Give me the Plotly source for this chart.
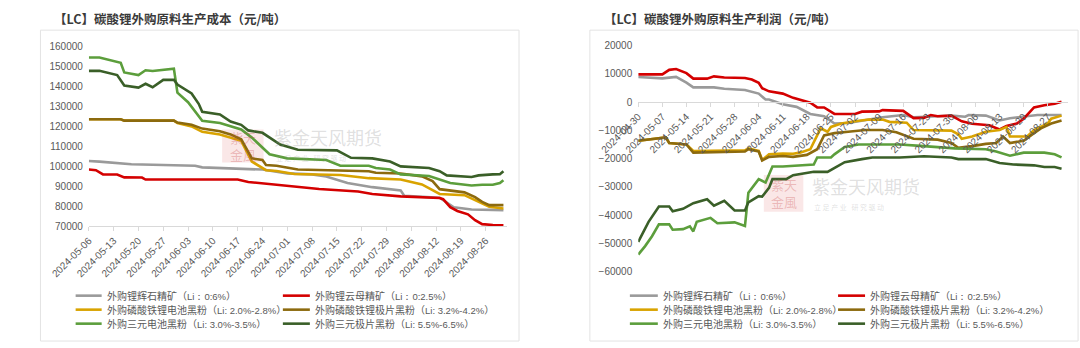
import plotly.graph_objects as go

W, H = 1080, 348

names = [
    "外购锂辉石精矿（Li：0:6%）",
    "外购锂云母精矿（Li：0:2.5%）",
    "外购磷酸铁锂电池黑粉（Li: 2.0%-2.8%）",
    "外购磷酸铁锂极片黑粉（Li: 3.2%-4.2%）",
    "外购三元电池黑粉（Li: 3.0%-3.5%）",
    "外购三元极片黑粉（Li: 5.5%-6.5%）",
]
colors = ["#9a9a9a", "#d40000", "#d9a300", "#8c6a0e", "#5c9e3c", "#3a5f28"]

# ---------------- Left chart: cost ----------------
cost_spod_x = ["2024-05-06", "2024-05-09", "2024-05-18", "2024-06-05", "2024-06-07", "2024-06-24", "2024-07-01",
               "2024-07-08", "2024-07-12", "2024-07-18", "2024-07-25", "2024-08-02", "2024-08-03", "2024-08-13",
               "2024-08-17", "2024-08-22", "2024-08-31"]
cost_spod_y = [102600, 102300, 101000, 100200, 99400, 98300, 96400, 95900, 94800, 91600, 89500, 87900, 85200,
               84200, 79400, 78300, 78000]

cost_lepi_x = ["2024-05-06", "2024-05-08", "2024-05-10", "2024-05-14", "2024-05-16", "2024-05-21", "2024-05-22",
               "2024-06-17", "2024-06-20", "2024-06-25", "2024-06-29", "2024-07-05", "2024-07-10", "2024-07-21",
               "2024-07-25", "2024-08-02", "2024-08-13", "2024-08-14", "2024-08-16", "2024-08-18", "2024-08-21",
               "2024-08-23", "2024-08-25", "2024-08-28", "2024-08-31"]
cost_lepi_y = [98300, 98000, 95900, 95800, 94400, 94300, 93300, 93300, 92100, 91300, 90500, 89700, 88600, 87300,
               86100, 84900, 84100, 83500, 79500, 77600, 75900, 73000, 71000, 70600, 70400]

cost_lfpb_x = ["2024-05-06", "2024-05-15", "2024-05-16", "2024-05-30", "2024-05-31", "2024-06-04", "2024-06-07",
               "2024-06-12", "2024-06-18", "2024-06-21", "2024-06-25", "2024-06-28", "2024-07-03", "2024-07-16",
               "2024-07-24", "2024-08-02", "2024-08-08", "2024-08-13", "2024-08-20", "2024-08-24", "2024-08-27",
               "2024-08-31"]
cost_lfpb_y = [123500, 123500, 122800, 122800, 121600, 119900, 117200, 115900, 112700, 102300, 98000, 97600, 96100,
               95600, 94000, 93300, 90900, 86100, 85500, 82100, 79700, 78800]

cost_lfpe_x = ["2024-05-06", "2024-05-15", "2024-05-16", "2024-05-30", "2024-05-31", "2024-06-04", "2024-06-07",
               "2024-06-12", "2024-06-15", "2024-06-18", "2024-06-21", "2024-06-24", "2024-06-25", "2024-06-28",
               "2024-07-04", "2024-07-24", "2024-07-26", "2024-08-02", "2024-08-08", "2024-08-11", "2024-08-13",
               "2024-08-20", "2024-08-23", "2024-08-25", "2024-08-27", "2024-08-31"]
cost_lfpe_y = [123500, 123500, 122800, 122800, 121800, 120700, 118800, 117500, 115900, 113500, 103900, 103100,
               100600, 100200, 98300, 97500, 96700, 96300, 94900, 92500, 88500, 86900, 84500, 82100, 80500, 80500]

cost_nmcb_x = ["2024-05-06", "2024-05-09", "2024-05-15", "2024-05-16", "2024-05-20", "2024-05-22", "2024-05-24",
               "2024-05-30", "2024-05-31", "2024-06-03", "2024-06-07", "2024-06-12", "2024-06-18", "2024-06-21",
               "2024-06-26", "2024-07-01", "2024-07-12", "2024-07-16", "2024-07-24", "2024-07-26", "2024-07-30",
               "2024-08-02", "2024-08-10", "2024-08-13", "2024-08-16", "2024-08-22", "2024-08-25", "2024-08-28",
               "2024-08-30", "2024-08-31"]
cost_nmcb_y = [154400, 154400, 151700, 146900, 145600, 148000, 147600, 148800, 136800, 132000, 122700, 121600,
               118400, 114300, 106000, 103900, 103100, 100200, 100200, 99100, 98300, 95900, 95100, 93500, 91600,
               90300, 90700, 90700, 91600, 93000]

cost_nmce_x = ["2024-05-06", "2024-05-09", "2024-05-14", "2024-05-16", "2024-05-20", "2024-05-22", "2024-05-24",
               "2024-05-27", "2024-05-30", "2024-05-31", "2024-06-04", "2024-06-06", "2024-06-07", "2024-06-12",
               "2024-06-15", "2024-06-18", "2024-06-20", "2024-06-24", "2024-06-29", "2024-07-04", "2024-07-15",
               "2024-07-19", "2024-07-25", "2024-07-30", "2024-08-02", "2024-08-10", "2024-08-13", "2024-08-15",
               "2024-08-22", "2024-08-24", "2024-08-28", "2024-08-30", "2024-08-31"]
cost_nmce_y = [147700, 147700, 145600, 140400, 139300, 141200, 139500, 143200, 143200, 140800, 136400, 131200,
               127200, 125900, 122300, 120700, 117900, 116700, 110800, 108200, 107900, 104200, 103900, 102300,
               99900, 99100, 97500, 95400, 94600, 95400, 95900, 96000, 97500]

# ---------------- Right chart: profit ----------------
prof_spod_x = ["2024-04-30", "2024-05-07", "2024-05-11", "2024-05-14", "2024-05-16", "2024-05-22", "2024-05-25",
               "2024-05-31", "2024-06-04", "2024-06-06", "2024-06-07", "2024-06-11", "2024-06-15", "2024-06-19",
               "2024-06-23", "2024-06-26", "2024-06-30", "2024-07-04", "2024-07-07", "2024-07-10", "2024-07-16",
               "2024-07-19", "2024-07-26", "2024-07-30", "2024-08-03", "2024-08-04", "2024-08-09", "2024-08-13",
               "2024-08-16", "2024-08-20", "2024-08-24", "2024-08-31"]
prof_spod_y = [8900, 8400, 8900, 6900, 5200, 5200, 4700, 4300, 3000, 900, 900, -800, -1700, -4200, -5000, -7600,
               -7400, -6500, -6000, -5400, -4600, -5400, -5000, -4800, -5200, -4600, -4800, -6500, -5700, -5100,
               -4600, -4600]

prof_lepi_x = ["2024-04-30", "2024-05-07", "2024-05-09", "2024-05-11", "2024-05-14", "2024-05-16", "2024-05-20",
               "2024-05-22", "2024-05-25", "2024-05-31", "2024-06-02", "2024-06-04", "2024-06-05", "2024-06-07",
               "2024-06-11", "2024-06-14", "2024-06-19", "2024-06-21", "2024-06-23", "2024-06-26", "2024-07-02",
               "2024-07-04", "2024-07-09", "2024-07-10", "2024-07-16", "2024-07-19", "2024-07-22", "2024-07-24",
               "2024-07-26", "2024-07-30", "2024-08-02", "2024-08-05", "2024-08-10", "2024-08-13", "2024-08-15",
               "2024-08-18", "2024-08-20", "2024-08-23", "2024-08-26", "2024-08-29", "2024-08-31"]
prof_lepi_y = [9800, 9800, 11400, 11700, 10250, 8300, 8300, 9100, 8700, 8500, 8000, 6800, 4900, 3800, 3000, 1500,
               -200, -1900, -1900, -4200, -4200, -3400, -3300, -2850, -3100, -5700, -5600, -4600, -5000, -4800,
               -6800, -7700, -8200, -9700, -8500, -7600, -5900, -1900, -1100, -600, 100]

prof_lfpb_x = ["2024-04-30", "2024-05-08", "2024-05-09", "2024-05-14", "2024-05-16", "2024-05-31", "2024-06-01",
               "2024-06-04", "2024-06-05", "2024-06-07", "2024-06-11", "2024-06-14", "2024-06-16", "2024-06-19",
               "2024-06-22", "2024-06-24", "2024-06-25", "2024-06-28", "2024-07-02", "2024-07-06", "2024-07-10",
               "2024-07-12", "2024-07-17", "2024-07-19", "2024-07-30", "2024-08-01", "2024-08-02", "2024-08-05",
               "2024-08-09", "2024-08-13", "2024-08-15", "2024-08-16", "2024-08-21", "2024-08-23", "2024-08-27",
               "2024-08-28", "2024-08-31"]
prof_lfpb_y = [-13700, -12500, -14500, -15000, -17300, -17100, -16400, -17300, -20500, -18500, -18200, -18300,
               -17900, -16700, -9300, -10500, -8800, -7600, -6800, -6200, -6200, -7000, -7300, -9900, -10100,
               -11400, -13000, -12200, -10500, -9900, -8800, -12200, -12200, -9900, -7600, -5900, -4800]

prof_lfpe_x = ["2024-04-30", "2024-05-08", "2024-05-09", "2024-05-14", "2024-05-16", "2024-05-31", "2024-06-01",
               "2024-06-04", "2024-06-05", "2024-06-07", "2024-06-11", "2024-06-14", "2024-06-18", "2024-06-21",
               "2024-06-23", "2024-06-26", "2024-06-30", "2024-07-05", "2024-07-10", "2024-07-14", "2024-07-19",
               "2024-07-26", "2024-07-30", "2024-08-01", "2024-08-05", "2024-08-09", "2024-08-12", "2024-08-14",
               "2024-08-16", "2024-08-20", "2024-08-23", "2024-08-25", "2024-08-28", "2024-08-31"]
prof_lfpe_y = [-13700, -12500, -14500, -15000, -17900, -17500, -16700, -17500, -20700, -19400, -19100, -19400,
               -18700, -16700, -11800, -11000, -10500, -9900, -9900, -10700, -13000, -13300, -14500, -16200,
               -15600, -14800, -14500, -12200, -14500, -13700, -11000, -9300, -7600, -6500]

prof_nmcb_x = ["2024-04-30", "2024-05-02", "2024-05-04", "2024-05-06", "2024-05-09", "2024-05-10", "2024-05-13",
               "2024-05-15", "2024-05-16", "2024-05-17", "2024-05-21", "2024-05-23", "2024-05-28", "2024-05-31",
               "2024-06-01", "2024-06-02", "2024-06-04", "2024-06-06", "2024-06-08", "2024-06-11", "2024-06-15",
               "2024-06-20", "2024-06-21", "2024-06-25", "2024-06-26", "2024-06-29", "2024-07-03", "2024-07-15",
               "2024-07-21", "2024-07-31", "2024-08-09", "2024-08-12", "2024-08-16", "2024-08-20", "2024-08-26",
               "2024-08-29", "2024-08-31"]
prof_nmcb_y = [-54000, -51000, -47500, -43300, -43300, -45200, -45000, -44000, -45800, -42400, -41000, -42900,
               -42600, -43900, -32100, -30400, -27300, -28500, -22800, -22800, -22400, -22100, -19600, -19600,
               -18500, -15900, -15000, -15000, -15500, -16400, -16700, -17500, -19000, -17900, -17900, -18500,
               -19600]

prof_nmce_x = ["2024-04-30", "2024-05-03", "2024-05-06", "2024-05-09", "2024-05-10", "2024-05-13", "2024-05-16",
               "2024-05-20", "2024-05-22", "2024-05-25", "2024-05-28", "2024-05-31", "2024-06-01", "2024-06-04",
               "2024-06-05", "2024-06-07", "2024-06-08", "2024-06-12", "2024-06-14", "2024-06-20", "2024-06-24",
               "2024-06-27", "2024-06-29", "2024-07-04", "2024-07-07", "2024-07-15", "2024-07-22", "2024-07-30",
               "2024-08-01", "2024-08-09", "2024-08-13", "2024-08-17", "2024-08-23", "2024-08-26", "2024-08-29",
               "2024-08-31"]
prof_nmce_y = [-49500, -42400, -37000, -37000, -38700, -37800, -35800, -34400, -36700, -35000, -38400, -38400,
               -35500, -33300, -33500, -30400, -27300, -27300, -25900, -24700, -24700, -22800, -21300, -20200,
               -19600, -19600, -19200, -19600, -20200, -20200, -21600, -22100, -22400, -23000, -23000, -23600]

cost_series = [(cost_spod_x, cost_spod_y), (cost_lepi_x, cost_lepi_y), (cost_lfpb_x, cost_lfpb_y),
               (cost_lfpe_x, cost_lfpe_y), (cost_nmcb_x, cost_nmcb_y), (cost_nmce_x, cost_nmce_y)]
prof_series = [(prof_spod_x, prof_spod_y), (prof_lepi_x, prof_lepi_y), (prof_lfpb_x, prof_lfpb_y),
               (prof_lfpe_x, prof_lfpe_y), (prof_nmcb_x, prof_nmcb_y), (prof_nmce_x, prof_nmce_y)]

titles = ["【LC】碳酸锂外购原料生产成本（元/吨）", "【LC】碳酸锂外购原料生产利润（元/吨）"]

fig = go.Figure()
for i, (xs, ys) in enumerate(cost_series):
    fig.add_trace(go.Scatter(x=xs, y=ys, mode="lines", name=names[i], showlegend=False,
                             line=dict(color=colors[i], width=2.6), xaxis="x", yaxis="y"))
for i, (xs, ys) in enumerate(prof_series):
    fig.add_trace(go.Scatter(x=xs, y=ys, mode="lines", name=names[i], showlegend=False,
                             line=dict(color=colors[i], width=2.6), xaxis="x2", yaxis="y2"))

def px(x):
    return x / W

def py(y):
    return 1 - y / H

tick_font = dict(family="Liberation Sans, Arial, sans-serif", size=10, color="#595959")
axis_line = "#d9d9d9"

ly0, ly1 = py(228), py(41.7)
ry0, ry1 = py(275), py(41)
r_zero = ry0 + (ry1 - ry0) * (60000 / 80000)

fig.update_layout(
    width=W, height=H, margin=dict(l=0, r=0, t=0, b=0),
    paper_bgcolor="white", plot_bgcolor="white",
    xaxis=dict(domain=[px(51.7), px(485.5)], range=["2024-05-06", "2024-09-01"], type="date",
               tick0="2024-05-06", dtick=7 * 86400000, tickformat="%Y-%m-%d", tickangle=-45,
               showline=True, linecolor=axis_line, linewidth=1, ticks="outside", ticklen=4,
               tickcolor=axis_line, showgrid=False, zeroline=False, tickfont=tick_font, anchor="y"),
    yaxis=dict(domain=[ly0, ly1], range=[70000, 160000], dtick=10000, tickformat="d",
               showgrid=False, zeroline=False,
               showline=False, tickfont=tick_font, anchor="x", ticklabelstandoff=5),
    xaxis2=dict(domain=[px(621.7), px(1068)], range=["2024-04-30", "2024-09-02"], type="date",
                tick0="2024-04-30", dtick=7 * 86400000, tickformat="%Y-%m-%d", tickangle=-45,
                showline=True, linecolor=axis_line, linewidth=1, ticks="outside", ticklen=4,
                tickcolor=axis_line, showgrid=False, zeroline=False, tickfont=tick_font,
                anchor="free", position=r_zero),
    yaxis2=dict(domain=[ry0, ry1], range=[-60000, 20000], dtick=10000, tickformat="d",
                showgrid=False, zeroline=False,
                showline=False, tickfont=tick_font, anchor="x2", ticklabelstandoff=5),
)

shapes = []
annotations = []

# panel boxes
for x0, x1 in [(1.5, 498), (571.5, 1078)]:
    shapes.append(dict(type="rect", xref="paper", yref="paper", x0=px(x0), x1=px(x1), y0=py(347), y1=py(25),
                       line=dict(color="#e3e3e3", width=1), fillcolor="rgba(0,0,0,0)", layer="below"))

# titles
for tx, t in [(14, titles[0]), (584, titles[1])]:
    annotations.append(dict(xref="paper", yref="paper", x=px(tx), y=py(12.5), xanchor="left", yanchor="middle",
                            text="<b>" + t + "</b>", showarrow=False,
                            font=dict(family="Noto Sans CJK SC", size=12.5, color="#3a3a3a")))


def legend_label(name):
    base, rest = name.split("（", 1)
    return (base + '（<span style="font-family:Liberation Sans;font-size:9.5px">'
            + rest[:-1] + '</span>）')


# manual legends (2 columns x 3 rows)
leg_font = dict(family="Noto Sans CJK SC", size=10, color="#595959")
legend_layouts = [
    dict(cols=[(38, 65, 68), (253, 281, 284)], rows=[300, 314.5, 329]),
    dict(cols=[(613, 642, 645), (829, 857, 860)], rows=[300, 314.5, 329]),
]
for lay in legend_layouts:
    for i, name in enumerate(names):
        r, c = divmod(i, 2)
        sx0, sx1, tx = lay["cols"][c]
        yy = lay["rows"][r]
        shapes.append(dict(type="line", xref="paper", yref="paper", x0=px(sx0), x1=px(sx1), y0=py(yy), y1=py(yy),
                           line=dict(color=colors[i], width=2.6)))
        annotations.append(dict(xref="paper", yref="paper", x=px(tx), y=py(yy), xanchor="left", yanchor="middle",
                                text=legend_label(name), showarrow=False, font=leg_font))

# watermarks
for lx0, lx1, ly_0, ly_1, tx0, tyc, sy in [(190, 233, 128, 162, 242, 136, 157),
                                           (752, 793, 175, 213, 800, 186, 208)]:
    shapes.append(dict(type="rect", xref="paper", yref="paper", x0=px(lx0), x1=px(lx1), y0=py(ly_1), y1=py(ly_0),
                       line=dict(width=0), fillcolor="rgba(225,120,120,0.18)", layer="below"))
    annotations.append(dict(xref="paper", yref="paper", x=px((lx0 + lx1) / 2), y=py((ly_0 + ly_1) / 2),
                            xanchor="center", yanchor="middle", text="紫天<br>金風", showarrow=False,
                            font=dict(family="Noto Sans CJK SC", size=13, color="rgba(200,70,70,0.30)")))
    annotations.append(dict(xref="paper", yref="paper", x=px(tx0), y=py(tyc), xanchor="left", yanchor="middle",
                            text="紫金天风期货", showarrow=False,
                            font=dict(family="Noto Sans CJK SC", size=18, color="rgba(150,150,150,0.30)")))
    annotations.append(dict(xref="paper", yref="paper", x=px(tx0 + 2), y=py(sy), xanchor="left", yanchor="middle",
                            text="立 足 产 业   研 究 驱 动", showarrow=False,
                            font=dict(family="Noto Sans CJK SC", size=7, color="rgba(150,150,150,0.30)")))

fig.update_layout(shapes=shapes, annotations=annotations)
fig.write_html("out.html")
